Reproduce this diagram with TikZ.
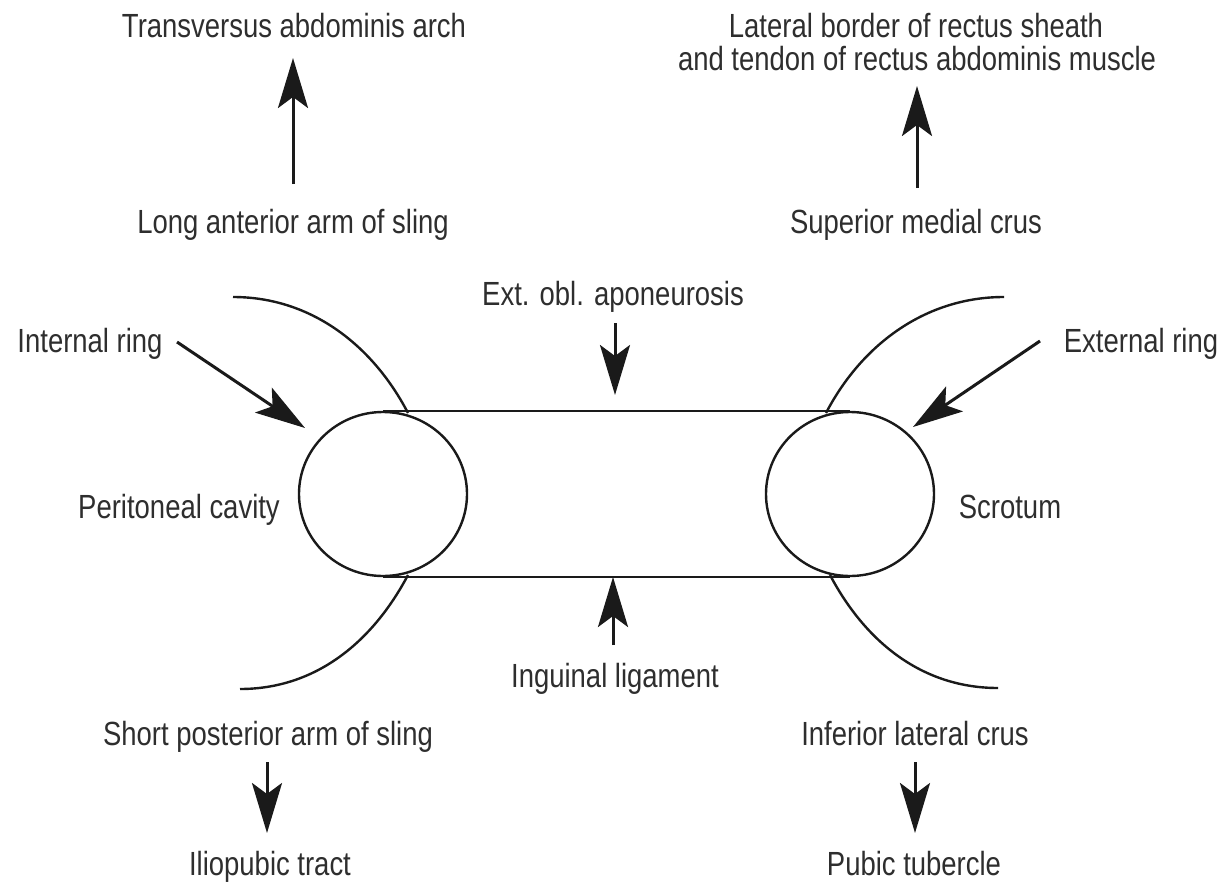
\documentclass[tikz,border=0pt]{standalone}
\usepackage{fontspec}
\setmainfont{Liberation Sans}[FakeStretch=0.82]
\usetikzlibrary{arrows.meta,shapes.geometric}
\definecolor{txt}{HTML}{2E2E2E}
\definecolor{ink}{HTML}{1A1A1A}
\begin{document}
\begin{tikzpicture}[x=1pt,y=-1pt,
  lbl/.style={anchor=base,inner sep=0pt,text=txt,font=\fontsize{33.5}{40}\selectfont},
  arr/.style={draw=ink,line width=3pt,-{Stealth[length=50pt,width=30pt,inset=11pt]}},
  edge/.style={draw=ink,line width=2.4pt},
  ring/.style={ellipse,draw=ink,line width=2.4pt,minimum width=168pt,minimum height=164pt,inner sep=0pt}]
\fill[white] (0,0) rectangle (1226,881);
\useasboundingbox (0,0) rectangle (1226,881);

% labels
\node[lbl] (transv) at (294,37) {Transversus abdominis arch};
\node[lbl] (longarm) at (293,233) {Long anterior arm of sling};
\node[lbl] (lat1) at (916,37) {Lateral border of rectus sheath};
\node[lbl] (lat2) at (917,70) {and tendon of rectus abdominis muscle};
\node[lbl] (supcrus) at (916,233) {Superior medial crus};
\node[lbl] (extobl) at (613,305) {Ext. obl. aponeurosis};
\node[lbl] (intring) at (90,352) {Internal ring};
\node[lbl] (extring) at (1141,352) {External ring};
\node[lbl] (perit) at (179,518) {Peritoneal cavity};
\node[lbl] (scrot) at (1010,518) {Scrotum};
\node[lbl] (ingl) at (615,687) {Inguinal ligament};
\node[lbl] (shortarm) at (268,745) {Short posterior arm of sling};
\node[lbl] (infcrus) at (915,745) {Inferior lateral crus};
\node[lbl] (ilio) at (270,875) {Iliopubic tract};
\node[lbl] (pubic) at (914,875) {Pubic tubercle};

% rings and canal
\node[ring] (lring) at (383,494) {};
\node[ring] (rring) at (850,494) {};
\draw[edge] (lring.north) -- (rring.north);
\draw[edge] (lring.south) -- (rring.south);

% sling curves
\draw[edge] (233,297) .. controls (310,297) and (372,344) .. (408,413);
\draw[edge] (408,575) .. controls (372,643) and (315,689) .. (240,689);
\draw[edge] (826,413) .. controls (862,344) and (926,297) .. (1004,297);
\draw[edge] (830,575) .. controls (866,643) and (923,688) .. (998,688);

% arrow end points
\coordinate (a1s) at (293,184); \coordinate (a1e) at (293,58);
\coordinate (a2s) at (917,188); \coordinate (a2e) at (917,86);
\coordinate (a3s) at (615,323); \coordinate (a3e) at (615,395);
\coordinate (a4s) at (613,645); \coordinate (a4e) at (613,577);
\coordinate (a5s) at (177,342); \coordinate (a5e) at (305,428);
\coordinate (a6s) at (1040,341); \coordinate (a6e) at (913,427);
\coordinate (a7s) at (267,762); \coordinate (a7e) at (267,833);
\coordinate (a8s) at (915,762); \coordinate (a8e) at (915,833);

\draw[arr] (a1s) -- (a1e);
\draw[arr] (a2s) -- (a2e);
\draw[arr] (a3s) -- (a3e);
\draw[arr] (a4s) -- (a4e);
\draw[arr] (a5s) -- (a5e);
\draw[arr] (a6s) -- (a6e);
\draw[arr] (a7s) -- (a7e);
\draw[arr] (a8s) -- (a8e);
\end{tikzpicture}
\end{document}
